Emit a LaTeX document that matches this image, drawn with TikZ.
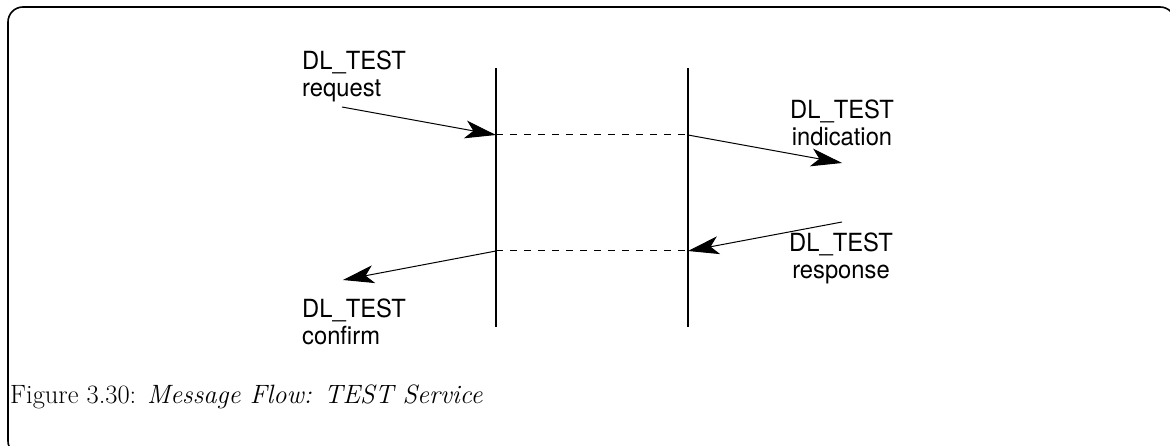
\documentclass[tikz,border=0pt]{standalone}
\usepackage{fontspec}
\newfontfamily\lblfont[FakeStretch=0.95]{TeX Gyre Heros}
\usetikzlibrary{arrows.meta}
\begin{document}
\begin{tikzpicture}[x=1pt,y=-1pt,
  frame/.style={line width=1.6pt, rounded corners=15pt},
  lifeline/.style={line width=2pt},
  msg/.style={line width=1pt,-{Stealth[length=31pt,width=18pt,inset=8pt]}},
  link/.style={line width=1pt,dash pattern=on 7pt off 7pt},
  lbl/.style={font=\lblfont\fontsize{25}{26.5}\selectfont, inner sep=0pt},
  captiontext/.style={font=\fontsize{26.5}{30}\selectfont, inner sep=0pt, anchor=base west}]
\useasboundingbox (0,0) rectangle (1170,446);
\begin{scope}
  \clip (0,0) rectangle (1170,446);
  \draw[frame] (8,7) rectangle (1175,456);
\end{scope}
% lifelines
\coordinate (Lt) at (496,68);
\coordinate (Lb) at (496,327);
\coordinate (Rt) at (688,68);
\coordinate (Rb) at (688,327);
\draw[lifeline] (Lt) -- (Lb);
\draw[lifeline] (Rt) -- (Rb);
% message points
\coordinate (L1) at (496,135);
\coordinate (R1) at (688,135);
\coordinate (L2) at (496,251);
\coordinate (R2) at (688,251);
\coordinate (reqS) at (342,107);
\coordinate (indE) at (842,163);
\coordinate (resS) at (842,222);
\coordinate (conE) at (343,280);
\draw[link] (L1) -- (R1);
\draw[link] (L2) -- (R2);
\draw[msg] (reqS) -- (L1);
\draw[msg] (R1) -- (indE);
\draw[msg] (resS) -- (R2);
\draw[msg] (L2) -- (conE);
% labels
\node[lbl, align=left, anchor=north west] (req) at (302,51) {DL\_TEST\\request};
\node[lbl, align=center, anchor=north] (ind) at (842,100) {DL\_TEST\\indication};
\node[lbl, align=center, anchor=north] (res) at (841,233) {DL\_TEST\\response};
\node[lbl, align=left, anchor=north west] (con) at (302,299) {DL\_TEST\\confirm};
\node[captiontext] (caption) at (10,403) {Figure 3.30: \textit{Message Flow: TEST Service}};
\end{tikzpicture}
\end{document}
